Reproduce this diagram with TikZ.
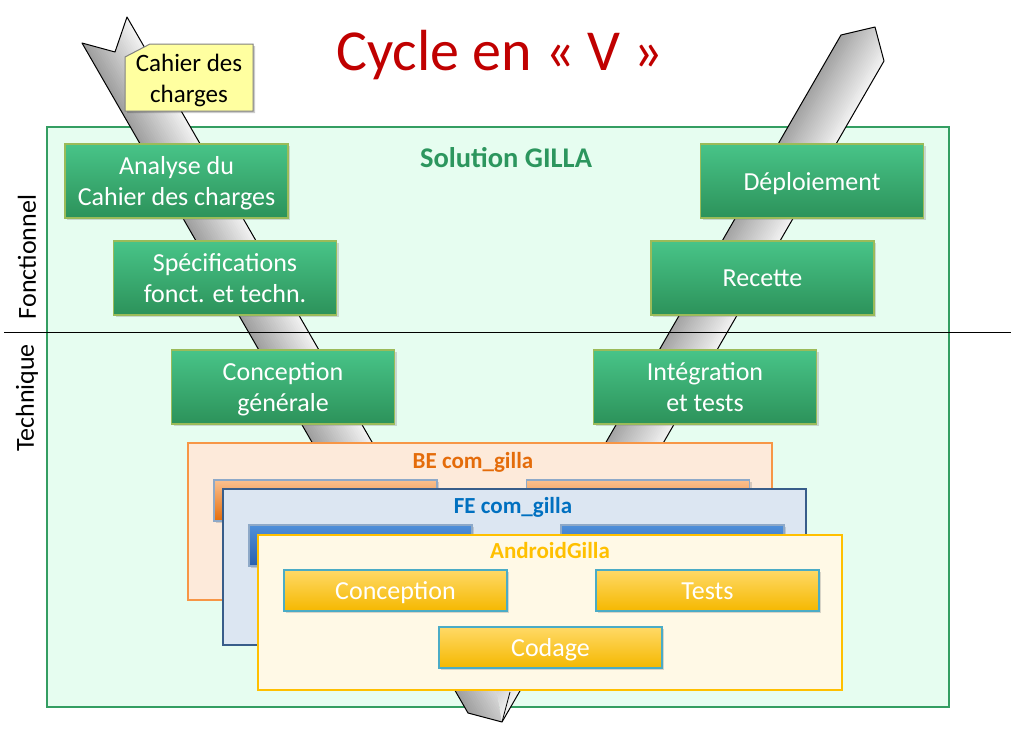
\documentclass[tikz,border=0pt]{standalone}
\usepackage{fontspec}
\setmainfont{Carlito}
\usetikzlibrary{shadows}
\definecolor{mint}{RGB}{230,253,240}
\definecolor{panelgreen}{RGB}{52,158,98}
\definecolor{titlered}{RGB}{192,0,0}
\definecolor{solgreen}{RGB}{44,150,94}
\definecolor{gtop}{RGB}{72,196,136}
\definecolor{gbot}{RGB}{44,146,90}
\definecolor{gborder}{RGB}{155,187,89}
\definecolor{notefill}{RGB}{255,255,160}
\definecolor{befill}{RGB}{253,234,218}
\definecolor{beborder}{RGB}{247,150,70}
\definecolor{betext}{RGB}{228,108,10}
\definecolor{otop}{RGB}{250,192,143}
\definecolor{obot}{RGB}{228,108,10}
\definecolor{fefill}{RGB}{220,230,242}
\definecolor{feborder}{RGB}{56,93,138}
\definecolor{fetext}{RGB}{0,112,192}
\definecolor{btop}{RGB}{79,143,218}
\definecolor{bbot}{RGB}{44,96,170}
\definecolor{anfill}{RGB}{255,249,230}
\definecolor{anborder}{RGB}{255,192,0}
\definecolor{ytop}{RGB}{255,217,102}
\definecolor{ybot}{RGB}{245,184,0}
\definecolor{yborder}{RGB}{75,172,198}
\definecolor{subborder}{RGB}{142,169,200}
\tikzset{
  boxfont/.style={font=\fontsize{26}{31}\selectfont},
  gbox/.style={draw=gborder, line width=1.2pt, top color=gtop, bottom color=gbot,
    text=white, minimum width=223pt, minimum height=74pt, inner sep=0pt,
    align=center, boxfont, text depth=0pt,
    drop shadow={opacity=0.3, shadow xshift=2pt, shadow yshift=-2pt}},
  sbox/.style={line width=1.2pt, minimum width=223pt, minimum height=41pt,
    inner sep=0pt, text=white, boxfont, text height=18pt, text depth=1pt,
    drop shadow={opacity=0.3, shadow xshift=2pt, shadow yshift=-2pt}},
  obox/.style={sbox, draw=subborder, top color=otop, bottom color=obot},
  bbox/.style={sbox, draw=subborder, top color=btop, bottom color=bbot},
  ybox/.style={sbox, draw=yborder, top color=ytop, bottom color=ybot},
  panellabel/.style={font=\fontsize{23}{27}\selectfont\bfseries},
  sidelabel/.style={font=\fontsize{26}{30}\selectfont, rotate=90},
}
\begin{document}
\begin{tikzpicture}[x=1pt,y=-1pt]
\useasboundingbox (0,0) rectangle (1013,731);
\fill[white] (0,0) rectangle (1013,731);
% main panel
\draw[line width=2.8pt, draw=panelgreen, fill=mint] (47,127) rectangle (949,707);
% V band, left arm
\begin{scope}
\clip (82,43) -- (468,713) -- (502,722) -- (489,645) -- (127,17) -- (115,52) -- cycle;
\foreach \i in {0,...,25}{
  \pgfmathsetmacro\s{(\i+0.5)*52/26}
  \pgfmathsetmacro\xa{82+\s*0.8665-60*0.4992}
  \pgfmathsetmacro\ya{43-\s*0.4992-60*0.8665}
  \pgfmathsetmacro\xb{82+\s*0.8665+900*0.4992}
  \pgfmathsetmacro\yb{43-\s*0.4992+900*0.8665}
  \pgfmathsetmacro\c{38-\i*1.3}
  \draw[line width=2.6pt, draw=black!\c] (\xa,\ya) -- (\xb,\yb);
}
\end{scope}
% V band, right arm
\begin{scope}
\clip (502,722) -- (884,61) -- (875,27) -- (841,35) -- (489,645) -- cycle;
\foreach \i in {0,...,25}{
  \pgfmathsetmacro\s{(\i+0.5)*50/26}
  \pgfmathsetmacro\xa{841+\s*0.8658+60*0.5003}
  \pgfmathsetmacro\ya{35+\s*0.5003-60*0.8658}
  \pgfmathsetmacro\xb{841+\s*0.8658-900*0.5003}
  \pgfmathsetmacro\yb{35+\s*0.5003+900*0.8658}
  \pgfmathsetmacro\c{36-\i*1.2}
  \draw[line width=2.6pt, draw=black!\c] (\xa,\ya) -- (\xb,\yb);
}
\end{scope}
\draw[line width=1pt, line join=round] (82,43) -- (468,713) -- (502,722) -- (884,61)
  -- (875,27) -- (841,35) -- (489,645) -- (127,17) -- (115,52) -- cycle;
\draw[line width=0.8pt] (510,692) -- (502,722);
% separator
\draw[line width=0.8pt] (4,332) -- (1011,332);
% title
\node[text=titlered, font=\fontsize{58}{64}\selectfont] (title) at (500,55) {Cycle en « V »};
% note
\fill[black, opacity=0.2] (127,59) -- (152,46) -- (255,46) -- (255,113) -- (127,113) -- cycle;
\draw[draw=black!50, line width=1pt, fill=notefill]
  (125,57) -- (150,44) -- (253,44) -- (253,111) -- (125,111) -- cycle;
\node[align=center, font=\fontsize{25}{31}\selectfont, inner sep=0pt]
  (cdc) at (189,80) {Cahier des\\charges};
% solution label
\node[text=solgreen, font=\fontsize{28.5}{33}\selectfont\bfseries] (sol) at (506,158) {Solution GILLA};
% green boxes
\node[gbox] (analyse) at (176.5,181) {Analyse du\\Cahier des charges};
\node[gbox] (specs) at (225,278) {Spécifications\\fonct. et techn.};
\node[gbox] (concg) at (283,387) {Conception\\générale};
\node[gbox] (integ) at (705,387) {Intégration\\et tests};
\node[gbox] (recette) at (762.5,278) {Recette};
\node[gbox] (deploy) at (812,181) {Déploiement};
% BE panel
\draw[line width=2pt, draw=beborder, fill=befill] (188,443) rectangle (772,600);
\node[panellabel, text=betext] (belabel) at (473,462) {BE com\_gilla};
\node[obox] (be1) at (325.5,500.5) {};
\node[obox] (be2) at (638,500.5) {};
% FE panel
\draw[line width=2pt, draw=feborder, fill=fefill] (223,489) rectangle (806,645);
\node[panellabel, text=fetext] (felabel) at (513,507) {FE com\_gilla};
\node[bbox] (fe1) at (360.5,545.5) {};
\node[bbox] (fe2) at (672.5,545.5) {};
% Android panel
\draw[line width=2.5pt, draw=anborder, fill=anfill] (258,535) rectangle (842,690);
\node[panellabel, text=anborder] (anlabel) at (550,551) {AndroidGilla};
\node[ybox] (conc) at (395.5,590.5) {Conception};
\node[ybox] (tests) at (707.5,590.5) {Tests};
\node[ybox] (codage) at (550.5,647.5) {Codage};
% side labels
\node[sidelabel] (fonc) at (27,257) {Fonctionnel};
\node[sidelabel] (tech) at (27,398) {Technique};
\end{tikzpicture}
\end{document}
